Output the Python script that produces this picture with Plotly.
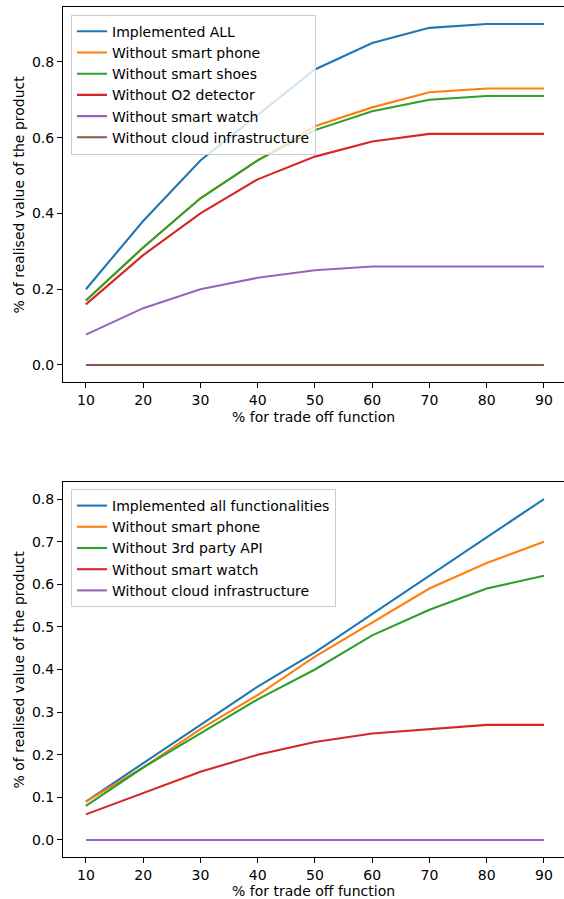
import plotly.graph_objects as go

x_vals = [10, 20, 30, 40, 50, 60, 70, 80, 90]

# Top chart series
top_names = ["Implemented ALL", "Without smart phone", "Without smart shoes",
             "Without O2 detector", "Without smart watch", "Without cloud infrastructure"]
top_all = [0.20, 0.38, 0.54, 0.66, 0.78, 0.85, 0.89, 0.90, 0.90]
top_phone = [0.17, 0.31, 0.44, 0.54, 0.63, 0.68, 0.72, 0.73, 0.73]
top_shoes = [0.17, 0.31, 0.44, 0.54, 0.62, 0.67, 0.70, 0.71, 0.71]
top_o2 = [0.16, 0.29, 0.40, 0.49, 0.55, 0.59, 0.61, 0.61, 0.61]
top_watch = [0.08, 0.15, 0.20, 0.23, 0.25, 0.26, 0.26, 0.26, 0.26]
top_cloud = [0, 0, 0, 0, 0, 0, 0, 0, 0]
top_series = [top_all, top_phone, top_shoes, top_o2, top_watch, top_cloud]

# Bottom chart series
bot_names = ["Implemented all functionalities", "Without smart phone", "Without 3rd party API",
             "Without smart watch", "Without cloud infrastructure"]
bot_all = [0.09, 0.18, 0.27, 0.36, 0.44, 0.53, 0.62, 0.71, 0.80]
bot_phone = [0.09, 0.17, 0.26, 0.34, 0.43, 0.51, 0.59, 0.65, 0.70]
bot_api = [0.08, 0.17, 0.25, 0.33, 0.40, 0.48, 0.54, 0.59, 0.62]
bot_watch = [0.06, 0.11, 0.16, 0.20, 0.23, 0.25, 0.26, 0.27, 0.27]
bot_cloud = [0, 0, 0, 0, 0, 0, 0, 0, 0]
bot_series = [bot_all, bot_phone, bot_api, bot_watch, bot_cloud]

top_yticks = [0.0, 0.2, 0.4, 0.6, 0.8]
bot_yticks = [0.0, 0.1, 0.2, 0.3, 0.4, 0.5, 0.6, 0.7, 0.8]

xlabel = "% for trade off function"
ylabel = "% of realised value of the product"

colors = ["#1f77b4", "#ff7f0e", "#2ca02c", "#d62728", "#9467bd", "#8c564b"]

W, H = 564, 899
FONT = "DejaVu Sans"
FS = 14

fig = go.Figure()
for i, (n, s) in enumerate(zip(top_names, top_series)):
    fig.add_trace(go.Scatter(x=x_vals, y=s, name=n, mode="lines",
                             line=dict(color=colors[i], width=2.1),
                             xaxis="x", yaxis="y", legend="legend",
                             legendgroup="t%d" % i))
for i, (n, s) in enumerate(zip(bot_names, bot_series)):
    fig.add_trace(go.Scatter(x=x_vals, y=s, name=n, mode="lines",
                             line=dict(color=colors[i], width=2.1),
                             xaxis="x2", yaxis="y2", legend="legend2",
                             legendgroup="b%d" % i))

xd = [63 / W, 1.0]
top_dom = [1 - 382 / H, 1 - 7 / H]
bot_dom = [1 - 857 / H, 1 - 482 / H]

axis_common = dict(showline=True, linecolor="black", linewidth=1.1,
                   ticks="outside", ticklen=5, tickwidth=1.1, tickcolor="black",
                   showgrid=False, zeroline=False,
                   tickfont=dict(family=FONT, size=FS, color="black"))

fig.update_layout(
    width=W, height=H,
    margin=dict(l=0, r=0, t=0, b=0),
    paper_bgcolor="white", plot_bgcolor="white",
    font=dict(family=FONT, size=FS, color="black"),
    xaxis=dict(domain=xd, anchor="y", range=[6, 93.5], tickvals=x_vals,
               mirror=True, **axis_common),
    yaxis=dict(domain=top_dom, anchor="x", range=[-0.045, 0.945], tickvals=top_yticks,
               tickformat=".1f", **axis_common),
    xaxis2=dict(domain=xd, anchor="y2", range=[6, 93.5], tickvals=x_vals,
                mirror=True, **axis_common),
    yaxis2=dict(domain=bot_dom, anchor="x2", range=[-0.04, 0.84], tickvals=bot_yticks,
                tickformat=".1f", **axis_common),
    legend=dict(x=71 / W, y=1 - 14.7 / H, xanchor="left", yanchor="top",
                bgcolor="rgba(255,255,255,0.8)", bordercolor="#cccccc", borderwidth=1,
                font=dict(family=FONT, size=FS, color="black"), tracegroupgap=0),
    legend2=dict(x=71 / W, y=1 - 489 / H, xanchor="left", yanchor="top",
                 bgcolor="rgba(255,255,255,0.8)", bordercolor="#cccccc", borderwidth=1,
                 font=dict(family=FONT, size=FS, color="black"), tracegroupgap=0),
    showlegend=True,
)

xc = (63 + 564) / 2 / W
annots = [
    dict(text=xlabel, x=xc, y=1 - 416.5 / H),
    dict(text=xlabel, x=xc, y=1 - 890.5 / H),
    dict(text=ylabel, x=18 / W, y=1 - 194.5 / H, textangle=-90),
    dict(text=ylabel, x=18 / W, y=1 - 669.5 / H, textangle=-90),
]
for a in annots:
    fig.add_annotation(xref="paper", yref="paper", showarrow=False,
                       xanchor="center", yanchor="middle",
                       font=dict(family=FONT, size=FS, color="black"), **a)

fig.write_html(
    "out.html",
    config={"displayModeBar": False},
    post_script="document.body.style.margin='0';document.body.style.padding='0';"
                "document.documentElement.style.overflow='hidden';",
)
